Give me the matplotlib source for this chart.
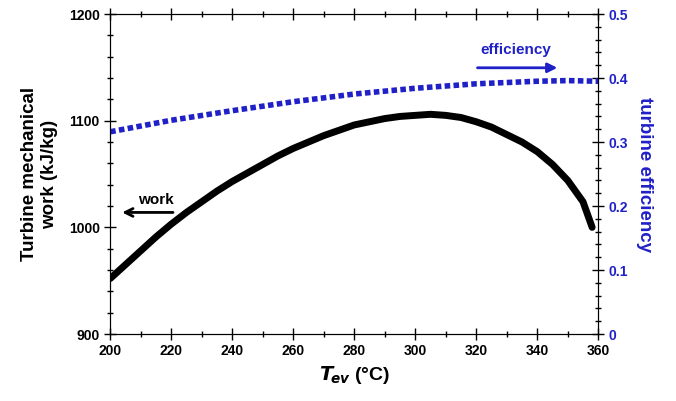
import numpy as np
import matplotlib
matplotlib.use('Agg')
import matplotlib.pyplot as plt
from matplotlib.ticker import MultipleLocator

plt.rcParams['font.family'] = ['Liberation Sans', 'DejaVu Sans']
plt.rcParams['font.weight'] = 'bold'

t_work = [200, 205, 210, 215, 220, 225, 230, 235, 240, 245, 250, 255, 260, 265, 270, 275,
          280, 285, 290, 295, 300, 305, 310, 315, 320, 325, 330, 335, 340, 345, 350, 355, 358]
work = [952, 965, 978, 991, 1003, 1014, 1024, 1034, 1043, 1051, 1059, 1067, 1074, 1080, 1086, 1091,
        1096, 1099, 1102, 1104, 1105, 1106, 1105, 1103, 1099, 1094, 1087, 1080, 1071, 1059, 1044, 1024, 1000]

t_eff = [200, 220, 240, 260, 280, 300, 320, 340, 350, 360]
eff = [0.316, 0.334, 0.349, 0.363, 0.375, 0.384, 0.391, 0.395, 0.396, 0.395]

blue = '#2020c8'

fig = plt.figure(figsize=(6.76, 4.01), dpi=100)
ax = fig.add_axes([0.163, 0.167, 0.722, 0.798])
ax2 = ax.twinx()

ax.plot(t_work, work, color='black', lw=5, solid_capstyle='round', solid_joinstyle='round')
ax2.plot(t_eff, eff, color=blue, lw=4, linestyle=(0, (1, 0.6)))

ax.set_xlim(200, 360)
ax.set_ylim(900, 1200)
ax2.set_ylim(0, 0.5)

ax.xaxis.set_major_locator(MultipleLocator(20))
ax.xaxis.set_minor_locator(MultipleLocator(10))
ax.yaxis.set_major_locator(MultipleLocator(100))
ax.yaxis.set_minor_locator(MultipleLocator(20))
ax2.yaxis.set_major_locator(MultipleLocator(0.1))
ax2.yaxis.set_minor_locator(MultipleLocator(0.02))
ax2.set_yticklabels(['0' if v == 0 else f'{v:.1f}' for v in ax2.get_yticks()])

ax.tick_params(which='both', direction='inout', top=True, labelsize=10)
ax.tick_params(which='major', length=8, width=1)
ax.tick_params(which='minor', length=5, width=1)
ax2.tick_params(which='both', direction='inout', labelsize=10, labelcolor=blue)
ax2.tick_params(which='major', length=8, width=1)
ax2.tick_params(which='minor', length=5, width=1)
for lbl in ax.get_xticklabels() + ax.get_yticklabels() + ax2.get_yticklabels():
    lbl.set_fontweight('bold')

ax.set_xlabel(r'$\boldsymbol{T}_{\!ev}$ (°C)', fontsize=14, fontweight='bold')
ax.set_ylabel('Turbine mechanical\nwork (kJ/kg)', fontsize=13.5, fontweight='bold', labelpad=8)
ax2.set_ylabel('turbine efficiency', fontsize=13.5, fontweight='bold', color=blue,
               rotation=270, labelpad=18)

ax2.annotate('', xy=(347.5, 0.416), xytext=(319.5, 0.416),
             arrowprops=dict(arrowstyle='-|>', color=blue, lw=2, mutation_scale=14))
ax2.text(333, 0.444, 'efficiency', color=blue, fontsize=11, fontweight='bold',
         ha='center', va='center')
ax.annotate('', xy=(203, 1014), xytext=(221.5, 1014),
            arrowprops=dict(arrowstyle='->', color='black', lw=2, mutation_scale=14))
ax.text(215, 1026, 'work', color='black', fontsize=11, fontweight='bold',
        ha='center', va='center')

fig.savefig('out.png', dpi=100)
